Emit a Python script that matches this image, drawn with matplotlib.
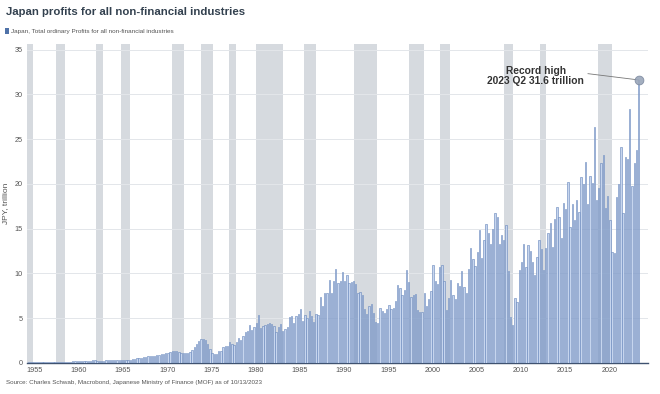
import numpy as np
import matplotlib.pyplot as plt
from matplotlib.patches import Patch

plt.rcParams['font.family'] = ['Liberation Sans', 'DejaVu Sans']

# --- Data: quarterly ordinary profits, JPY trillion, 1954 Q2 .. 2023 Q2 ---
first_year, first_quarter = 1954, 2
profits = [
    0.08, 0.07, 0.09,                 # 1954 (Q2-Q4)
    0.08, 0.09, 0.09, 0.10,           # 1955
    0.11, 0.12, 0.12, 0.14,           # 1956
    0.15, 0.15, 0.13, 0.12,           # 1957
    0.12, 0.12, 0.12, 0.14,           # 1958
    0.15, 0.16, 0.17, 0.19,           # 1959
    0.20, 0.21, 0.21, 0.23,           # 1960
    0.24, 0.26, 0.27, 0.27,           # 1961
    0.26, 0.25, 0.25, 0.26,           # 1962
    0.27, 0.29, 0.30, 0.33,           # 1963
    0.34, 0.36, 0.35, 0.36,           # 1964
    0.34, 0.33, 0.33, 0.36,           # 1965
    0.42, 0.47, 0.50, 0.55,           # 1966
    0.60, 0.65, 0.68, 0.72,           # 1967
    0.74, 0.78, 0.80, 0.88,           # 1968
    0.90, 0.95, 1.02, 1.10,           # 1969
    1.15, 1.20, 1.30, 1.38,           # 1970
    1.30, 1.22, 1.15, 1.10,           # 1971
    1.05, 1.12, 1.25, 1.40,           # 1972
    1.75, 2.10, 2.45, 2.65,           # 1973
    2.70, 2.50, 2.15, 1.60,           # 1974
    1.05, 0.95, 1.00, 1.35,           # 1975
    1.30, 1.75, 1.85, 1.90,           # 1976
    2.35, 2.15, 2.05, 2.30,           # 1977
    2.75, 2.60, 3.05, 3.50,           # 1978
    3.55, 4.20, 3.70, 4.00,           # 1979
    4.50, 5.40, 3.90, 4.10,           # 1980
    4.20, 4.30, 4.45, 4.35,           # 1981
    4.10, 3.40, 4.05, 4.30,           # 1982
    3.60, 3.80, 4.00, 5.10,           # 1983
    5.25, 4.50, 5.20, 5.50,           # 1984
    6.05, 4.70, 5.30, 5.00,           # 1985
    5.80, 5.20, 4.60, 5.50,           # 1986
    5.40, 7.40, 6.30, 7.80,           # 1987
    7.80, 9.30, 7.80, 9.20,           # 1988
    10.50, 8.90, 9.20, 10.20,         # 1989
    9.20, 9.80, 8.90, 9.00,           # 1990
    9.20, 8.80, 7.80, 7.90,           # 1991
    7.60, 6.00, 5.50, 6.30,           # 1992
    6.60, 5.60, 4.60, 4.50,           # 1993
    6.10, 5.80, 5.60, 6.00,           # 1994
    6.50, 6.00, 6.10, 6.90,           # 1995
    8.70, 8.40, 7.60, 8.10,           # 1996
    10.40, 9.00, 7.40, 7.60,          # 1997
    7.70, 5.90, 5.70, 5.70,           # 1998
    7.80, 6.30, 7.10, 8.00,           # 1999
    10.90, 9.10, 8.80, 10.70,         # 2000
    10.90, 9.20, 5.90, 7.30,          # 2001
    9.30, 7.60, 7.10, 8.90,           # 2002
    8.60, 10.30, 8.50, 7.80,          # 2003
    10.50, 12.80, 11.60, 10.80,       # 2004
    12.40, 14.80, 11.70, 13.70,       # 2005
    15.50, 14.50, 13.30, 14.90,       # 2006
    16.70, 16.30, 13.30, 14.30,       # 2007
    13.70, 15.40, 10.30, 5.10,        # 2008
    4.20, 7.20, 6.80, 10.40,          # 2009
    11.30, 13.30, 10.70, 13.20,       # 2010
    12.50, 11.30, 9.80, 11.80,        # 2011
    13.70, 12.70, 10.40, 12.80,       # 2012
    14.50, 15.60, 12.90, 16.10,       # 2013
    17.40, 16.30, 13.90, 17.90,       # 2014
    17.20, 20.20, 15.20, 17.80,       # 2015
    16.00, 18.20, 16.90, 20.80,       # 2016
    20.00, 22.40, 17.80, 20.90,       # 2017
    20.10, 26.40, 18.20, 19.50,       # 2018
    22.30, 23.20, 17.30, 18.60,       # 2019
    16.00, 12.40, 12.30, 18.50,       # 2020
    20.00, 24.10, 16.70, 23.00,       # 2021
    22.80, 28.30, 19.70, 22.30,       # 2022
    23.80, 31.60,                     # 2023 (Q1-Q2)
]

# Japanese business cycle recessions (peak, trough) as decimal years
recessions = [
    (1954.00, 1954.83), (1957.42, 1958.42), (1961.92, 1962.75),
    (1964.75, 1965.75), (1970.50, 1971.92), (1973.83, 1975.17),
    (1977.00, 1977.75), (1980.08, 1983.08), (1985.42, 1986.83),
    (1991.08, 1993.75), (1997.33, 1999.00), (2000.83, 2002.00),
    (2008.08, 2009.17), (2012.17, 2012.83), (2018.75, 2020.33),
]

year_ticks = list(range(1955, 2021, 5))
title = "Japan profits for all non-financial industries"
series_name = "Japan, Total ordinary Profits for all non-financial industries"
source = "Source: Charles Schwab, Macrobond, Japanese Ministry of Finance (MOF) as of 10/13/2023"

# quarter start as decimal year
n = len(profits)
qidx = np.arange(n) + (first_quarter - 1)
dates = first_year + qidx / 4.0

fig = plt.figure(figsize=(6.6, 3.94), dpi=100)
ax = fig.add_axes([0.041, 0.079, 0.941, 0.809])

for start, end in recessions:
    ax.axvspan(start, end, color="#d6dadf", lw=0, zorder=0)

ax.bar(dates, profits, width=0.15, color="#c6d5ee", edgecolor="#6384ba",
       linewidth=0.4, align="edge", zorder=3)

ax.set_xlim(1954.15, 2024.4)
ax.set_ylim(0, 35.6)
ax.set_yticks(range(0, 36, 5))
ax.set_xticks(year_ticks)
ax.grid(axis="y", color="#e3e6ea", linewidth=0.7, zorder=1)
ax.set_axisbelow(True)
for s in ["top", "right", "left"]:
    ax.spines[s].set_visible(False)
ax.spines["bottom"].set_color("#3f5270")
ax.spines["bottom"].set_linewidth(1.0)
ax.tick_params(axis="both", length=0, labelsize=5.2, labelcolor="#555555", pad=3)
ax.set_ylabel("JPY, trillion", fontsize=6, color="#555555", labelpad=4)

# record high annotation
last_x = dates[-1] + 0.075
last_y = profits[-1]
ax.scatter([last_x], [last_y], s=40, color="#9aa6ba", edgecolor="#7b889e",
           linewidth=0.6, alpha=0.9, zorder=5)
ax.plot([2017.6, last_x], [32.3, last_y], color="#777777", lw=0.6, zorder=4)
ax.text(2011.7, 32.0, "Record high\n2023 Q2 31.6 trillion", ha="center", va="center",
        fontsize=7.4, fontweight="bold", color="#333333", linespacing=1.0, zorder=6)

fig.text(0.009, 0.969, title, fontsize=8.2, fontweight="bold", color="#33414f",
         va="center", ha="left")
fig.legend(handles=[Patch(facecolor="#4f72a8", edgecolor="none")],
           labels=[series_name], loc="center left", bbox_to_anchor=(0.003, 0.921),
           frameon=False, fontsize=4.6, handlelength=0.7, handleheight=0.9,
           handletextpad=0.3, borderaxespad=0, labelcolor="#555555")
fig.text(0.009, 0.028, source, fontsize=4.5, color="#555555", va="center", ha="left")

plt.savefig("out.png", dpi=100)
